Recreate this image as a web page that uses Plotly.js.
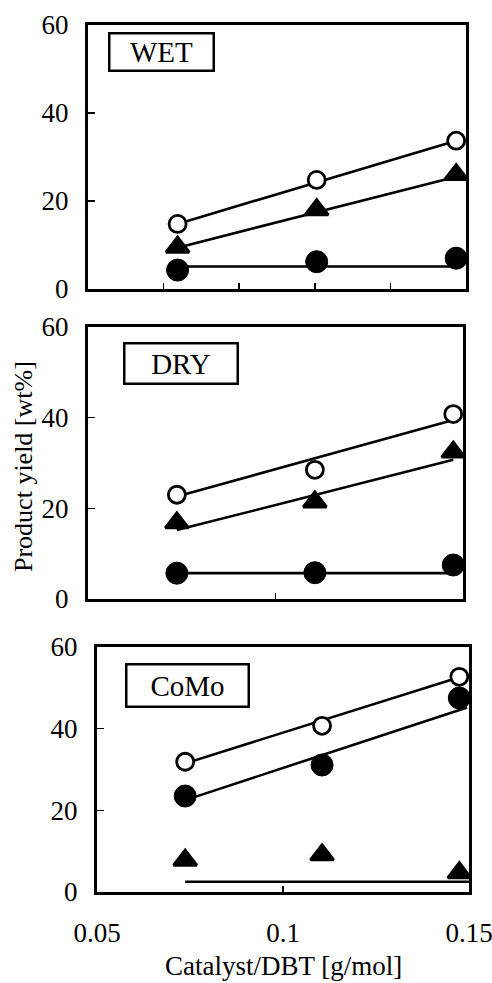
<!DOCTYPE html>
<html>
<head>
<meta charset="utf-8">
<script src="https://cdn.plot.ly/plotly-3.0.1.min.js"></script>
<style>html,body{margin:0;padding:0;background:#fff;}#chart{width:492px;height:983px;}</style>
</head>
<body>
<div id="chart"></div>
<script>
// Catalyst/DBT ratio [g/mol]
const catalystDBT = [0.0737, 0.1105, 0.1474];

// WET panel
const wetOpen = [14.8, 24.8, 33.7];
const wetTri = [9.5, 18.0, 26.0];
const wetFilled = [4.3, 6.2, 7.0];
const wetOpenFitX = [0.0737, 0.1474], wetOpenFit = [14.8, 33.7];
const wetTriFitX = [0.0737, 0.1474], wetTriFit = [9.4, 25.5];
const wetFilledFitX = [0.0737, 0.1474], wetFilledFit = [5.1, 5.1];

// DRY panel
const dryOpen = [23.0, 28.5, 40.8];
const dryTri = [16.8, 21.4, 32.4];
const dryFilled = [5.7, 5.8, 7.5];
const dryOpenFitX = [0.0737, 0.1474], dryOpenFit = [22.6, 39.5];
const dryTriFitX = [0.0737, 0.1474], dryTriFit = [15.2, 30.7];
const dryFilledFitX = [0.0737, 0.1474], dryFilledFit = [5.7, 5.7];

// CoMo panel
const comoOpen = [31.9, 40.7, 52.7];
const comoFilled = [23.5, 31.1, 47.5];
const comoTri = [7.8, 9.1, 4.7];
const comoOpenFitX = [0.0737, 0.1474], comoOpenFit = [31.5, 52.6];
const comoFilledFitX = [0.0737, 0.1495], comoFilledFit = [22.5, 45.2];
const comoTriFitX = [0.0737, 0.15], comoTriFit = [2.5, 2.5];

const panelLabels = ['WET', 'DRY', 'CoMo'];
const yTicks = [0, 20, 40, 60];
const xTickLabels = ['0.05', '0.1', '0.15'];
const xTickVals = [0.05, 0.1, 0.15];
const yTitle = 'Product yield [wt%]';
const xTitle = 'Catalyst/DBT [g/mol]';

const F = 'Liberation Serif, Times New Roman, serif';
const traces = [];
function fit(x, y, xa, ya) {
  traces.push({x: x, y: y, xaxis: xa, yaxis: ya, mode: 'lines', line: {color: '#000', width: 2.6}, hoverinfo: 'skip'});
}
function pts(y, kind, xa, ya) {
  let marker;
  if (kind === 'open') marker = {symbol: 'circle', size: 17, color: '#fff', line: {color: '#000', width: 2.8}};
  else if (kind === 'filled') marker = {symbol: 'circle', size: 22, color: '#000', line: {color: '#000', width: 1}};
  else marker = {symbol: 'triangle-up', size: 20, color: '#000', line: {color: '#000', width: 3}};
  traces.push({x: catalystDBT, y: y, xaxis: xa, yaxis: ya, mode: 'markers', marker: marker, cliponaxis: false});
}
fit(wetOpenFitX, wetOpenFit, 'x', 'y');
fit(wetTriFitX, wetTriFit, 'x', 'y');
fit(wetFilledFitX, wetFilledFit, 'x', 'y');
pts(wetFilled, 'filled', 'x', 'y');
pts(wetTri, 'tri', 'x', 'y');
pts(wetOpen, 'open', 'x', 'y');

fit(dryOpenFitX, dryOpenFit, 'x2', 'y2');
fit(dryTriFitX, dryTriFit, 'x2', 'y2');
fit(dryFilledFitX, dryFilledFit, 'x2', 'y2');
pts(dryFilled, 'filled', 'x2', 'y2');
pts(dryTri, 'tri', 'x2', 'y2');
pts(dryOpen, 'open', 'x2', 'y2');

fit(comoOpenFitX, comoOpenFit, 'x3', 'y3');
fit(comoFilledFitX, comoFilledFit, 'x3', 'y3');
fit(comoTriFitX, comoTriFit, 'x3', 'y3');
pts(comoTri, 'tri', 'x3', 'y3');
pts(comoFilled, 'filled', 'x3', 'y3');
pts(comoOpen, 'open', 'x3', 'y3');

const W = 492, H = 983;
function xax(dom, anchor, tickvals, labels) {
  return {domain: [dom[0] / W, dom[1] / W], anchor: anchor, range: [0.05, 0.15],
    showline: true, mirror: true, linecolor: '#000', linewidth: 3, showgrid: false, zeroline: false,
    ticks: 'inside', ticklen: 6, tickwidth: 1.5, tickcolor: '#000',
    tickvals: tickvals, ticktext: labels || tickvals.map(String), showticklabels: !!labels,
    ticklabeloverflow: 'allow',
    tickfont: {family: F, size: 27, color: '#000'}, ticklabelstandoff: 15};
}
function yax(top, bottom, anchor) {
  return {domain: [1 - bottom / H, 1 - top / H], anchor: anchor, range: [0, 60],
    showline: true, mirror: true, linecolor: '#000', linewidth: 3, showgrid: false, zeroline: false,
    ticks: 'inside', ticklen: 7, tickwidth: 1.5, tickcolor: '#000', tickvals: yTicks,
    tickfont: {family: F, size: 27, color: '#000'}, ticklabelstandoff: 11};
}
function label(text, cx, cy, w, h) {
  return {text: text, xref: 'paper', yref: 'paper', x: cx / W, y: 1 - cy / H, xanchor: 'center', yanchor: 'middle',
    showarrow: false, width: w, height: h, borderpad: 0, bordercolor: '#000', borderwidth: 2.5, bgcolor: '#fff',
    font: {family: F, size: 29, color: '#000'}};
}
const layout = {
  width: W, height: H, margin: {l: 0, r: 0, t: 0, b: 0},
  paper_bgcolor: '#fff', plot_bgcolor: '#fff', showlegend: false,
  xaxis: xax([88, 466], 'y', [0.07, 0.09, 0.11, 0.13]),
  yaxis: yax(25, 289, 'x'),
  xaxis2: xax([88, 463], 'y2', [0.1]),
  yaxis2: yax(327, 599, 'x2'),
  xaxis3: xax([97, 469], 'y3', xTickVals, xTickLabels),
  yaxis3: yax(647, 892, 'x3'),
  annotations: [
    label(panelLabels[0], 161.5, 51.8, 102, 35),
    label(panelLabels[1], 181, 363.7, 111, 38),
    label(panelLabels[2], 187, 685, 120, 40),
    {text: yTitle, xref: 'paper', yref: 'paper', x: 23 / W, y: 1 - 467 / H, xanchor: 'center', yanchor: 'middle',
      textangle: -90, showarrow: false, font: {family: F, size: 26, color: '#000'}},
    {text: xTitle, xref: 'paper', yref: 'paper', x: 283.5 / W, y: 1 - 966 / H, xanchor: 'center', yanchor: 'middle',
      showarrow: false, font: {family: F, size: 27, color: '#000'}}
  ]
};
Plotly.newPlot('chart', traces, layout, {staticPlot: true, displayModeBar: false});
</script>
</body>
</html>
